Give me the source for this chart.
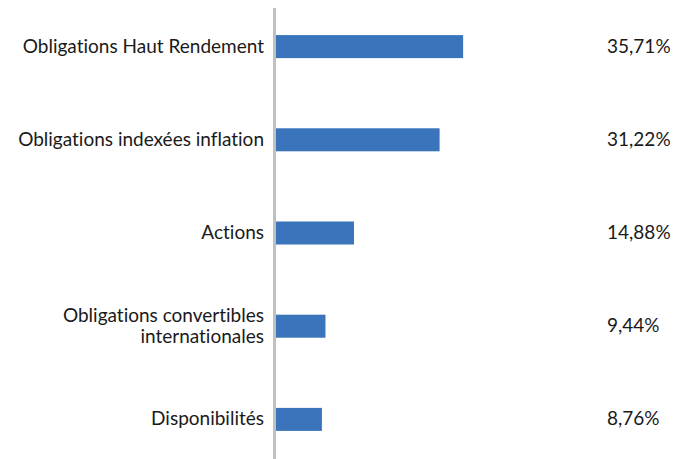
<!DOCTYPE html>
<html>
<head>
<meta charset="utf-8">
<script src="https://cdn.jsdelivr.net/npm/d3@7"></script>
<style>
  body { margin: 0; background: #fff; }
  text { font-family: Lato, "Open Sans", sans-serif; fill: #1a1a1a; font-variant-ligatures: none; }
</style>
</head>
<body>
<div id="chart"></div>
<script>
const categories = [
  "Obligations Haut Rendement",
  "Obligations indexées inflation",
  "Actions",
  "Obligations convertibles internationales",
  "Disponibilités",
];
const labelLines = [
  ["Obligations Haut Rendement"],
  ["Obligations indexées inflation"],
  ["Actions"],
  ["Obligations convertibles", "internationales"],
  ["Disponibilités"],
];
const values = [35.71, 31.22, 14.88, 9.44, 8.76];
const valueLabels = ["35,71%", "31,22%", "14,88%", "9,44%", "8,76%"];

const dimensions = {
  width: 685,
  height: 459,
  axisX: 276,
  top: 0,
  bottom: 466,
};

const svg = d3
  .select("#chart")
  .append("svg")
  .attr("width", dimensions.width)
  .attr("height", dimensions.height);

const xScale = d3
  .scaleLinear()
  .domain([0, 40])
  .range([dimensions.axisX, dimensions.axisX + 40 * 5.24]);

const yScale = d3
  .scaleBand()
  .domain(categories)
  .range([dimensions.top, dimensions.bottom])
  .paddingInner(0.753)
  .paddingOuter(0.3765);

svg
  .append("g")
  .selectAll("rect")
  .data(values)
  .join("rect")
  .attr("x", xScale(0))
  .attr("y", (d, i) => yScale(categories[i]))
  .attr("width", (d) => xScale(d) - xScale(0))
  .attr("height", yScale.bandwidth())
  .attr("fill", "#3a75bc");

// axis line
svg
  .append("line")
  .attr("x1", xScale(0) - 1.5)
  .attr("x2", xScale(0) - 1.5)
  .attr("y1", 8)
  .attr("y2", dimensions.height)
  .attr("stroke", "#c0c0c0")
  .attr("stroke-width", 3);

const fontSize = 19;
const lineH = 21;

const labels = svg
  .append("g")
  .selectAll("text")
  .data(labelLines)
  .join("text")
  .attr("text-anchor", "end")
  .attr("font-size", fontSize)
  .attr("x", xScale(0) - 12)
  .attr("y", (d, i) => yScale(categories[i]) + yScale.bandwidth() / 2);

labels
  .selectAll("tspan")
  .data((d) => d.map((t, j) => ({ t, j, n: d.length })))
  .join("tspan")
  .attr("x", xScale(0) - 12)
  .attr("dy", (d) => (d.j === 0 ? ((-(d.n - 1) * lineH) / 2 + 6) : lineH))
  .text((d) => d.t);

svg
  .append("g")
  .selectAll("text")
  .data(valueLabels)
  .join("text")
  .attr("font-size", fontSize)
  .attr("x", 607)
  .attr("y", (d, i) => yScale(categories[i]) + yScale.bandwidth() / 2 + 6)
  .text((d) => d);
</script>
</body>
</html>
